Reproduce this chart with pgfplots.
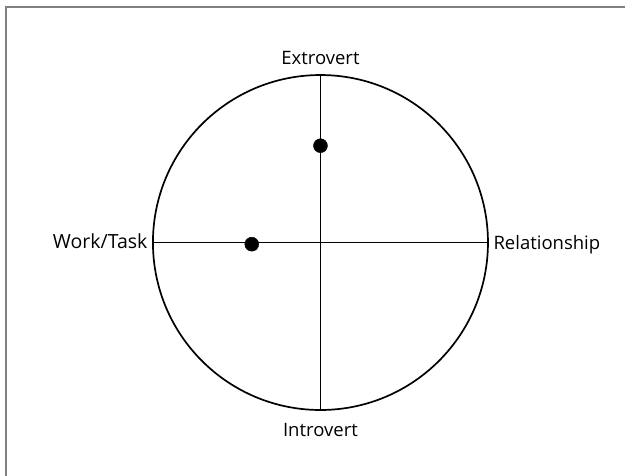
\documentclass[border=0pt]{standalone}
\usepackage{pgfplots}
\pgfplotsset{compat=1.18}
\usepackage{fontspec}
\setmainfont{Open Sans}
\begin{document}
\begin{tikzpicture}
\begin{axis}[
  width=625pt, height=476pt, scale only axis,
  xmin=-1.913, xmax=1.818, ymin=-1.394, ymax=1.448,
  hide axis, clip=false,
]
\path[use as bounding box] (rel axis cs:0,0) rectangle (rel axis cs:1,1);
% frame (top and left)
\draw[line width=1.6pt, color=black!50] (rel axis cs:0.0096,0) -- (rel axis cs:0.0096,0.9853) -- (rel axis cs:1,0.9853);
% circle and axes
\draw[line width=1.7pt] (axis cs:0,0) circle [radius=1];
\draw[line width=1.7pt] (axis cs:-1,0) -- (axis cs:1,0);
\draw[line width=1.7pt] (axis cs:0,-1) -- (axis cs:0,1);
% data points
\addplot[only marks, mark=*, mark size=7pt, color=black] coordinates {(0,0.578) (-0.41,-0.01)};
% labels
\node[font=\fontsize{18.5}{20}\selectfont] at (axis cs:0,1.10) {Extrovert};
\node[font=\fontsize{18.5}{20}\selectfont] at (axis cs:0,-1.12) {Introvert};
\node[font=\fontsize{19.5}{20}\selectfont, anchor=east, inner sep=2pt] at (axis cs:-1.02,0.005) {Work/Task};
\node[font=\fontsize{18.5}{20}\selectfont, anchor=west, inner sep=2pt] at (axis cs:1.02,-0.015) {Relationship};
\end{axis}
\end{tikzpicture}
\end{document}
